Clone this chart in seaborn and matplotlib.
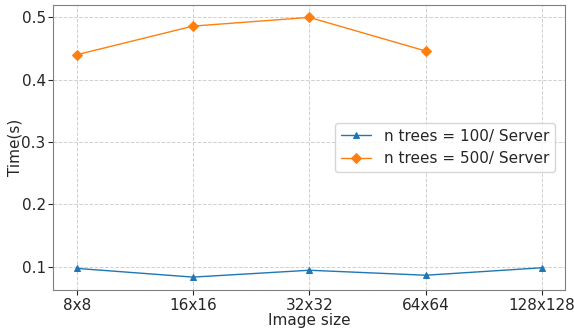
import numpy as np
import pandas as pd
import matplotlib
matplotlib.use("Agg")
import matplotlib.pyplot as plt
import seaborn as sns

image_sizes = ["8x8", "16x16", "32x32", "64x64", "128x128"]
time_100 = [0.097, 0.083, 0.094, 0.086, 0.098]
time_500 = [0.440, 0.486, 0.500, 0.446, np.nan]

labels = ["n trees = 100/ Server", "n trees = 500/ Server"]

sns.set_style("ticks")
plt.rcParams["font.family"] = ["DejaVu Sans"]
fs = 11

df = pd.DataFrame({
    "pos": list(range(len(image_sizes))) * 2,
    "time": time_100 + time_500,
    "series": [labels[0]] * len(image_sizes) + [labels[1]] * len(image_sizes),
})

fig, ax = plt.subplots(figsize=(5.74, 3.29), dpi=100)
palette = {labels[0]: "#1f77b4", labels[1]: "#ff7f0e"}
markers = {labels[0]: "^", labels[1]: "D"}
sns.lineplot(data=df.dropna(), x="pos", y="time", hue="series", style="series",
             palette=palette, markers=markers, dashes=False, markersize=5,
             markeredgecolor=None, linewidth=1, ax=ax)

ax.set_xticks(range(len(image_sizes)))
ax.set_xticklabels(image_sizes, fontsize=fs)
ax.tick_params(axis="both", labelsize=fs, pad=2)
ax.set_xlim(-0.2, len(image_sizes) - 0.8)
ax.set_ylim(0.062, 0.52)
ax.set_yticks([0.1, 0.2, 0.3, 0.4, 0.5])
ax.set_xlabel("Image size", fontsize=fs, labelpad=0)
ax.set_ylabel("Time(s)", fontsize=fs)
ax.yaxis.set_label_coords(-0.06, 0.5)
ax.grid(True, linestyle="--", color="#d0d0d0", linewidth=0.7)
for s in ax.spines.values():
    s.set_color("#808080")
ax.legend(loc="center right", fontsize=fs, title=None, handlelength=2.0,
          bbox_to_anchor=(0.995, 0.5))

fig.subplots_adjust(left=0.093, right=0.985, top=0.985, bottom=0.118)
fig.savefig("out.png", dpi=100)
